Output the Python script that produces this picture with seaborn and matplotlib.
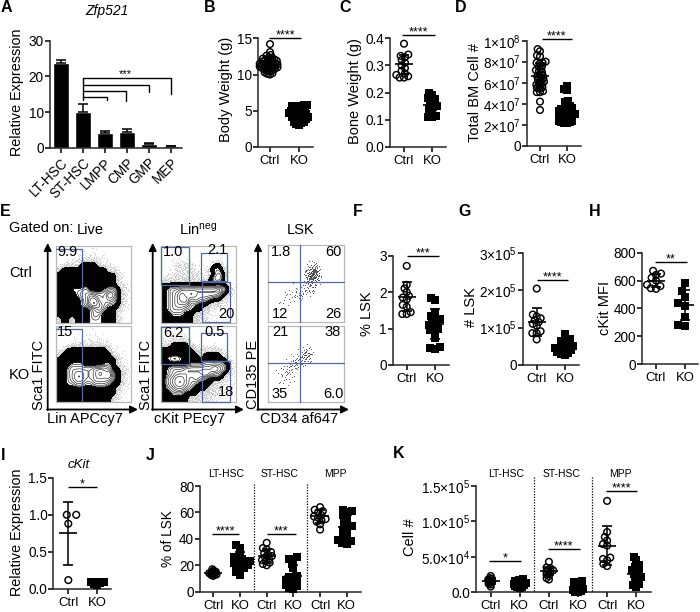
import numpy as np
import matplotlib
matplotlib.use("Agg")
import matplotlib.pyplot as plt
from matplotlib.collections import PathCollection
import seaborn as sns

sns.set_theme(style="ticks")
plt.rcParams["font.family"] = ["Liberation Sans", "DejaVu Sans"]
plt.rcParams["mathtext.default"] = "regular"
plt.rcParams["axes.linewidth"] = 1.1

W, H = 700, 612
fig = plt.figure(figsize=(W / 100, H / 100), dpi=100, facecolor="white")

# ---------- data ----------
A_cats = ["LT-HSC", "ST-HSC", "LMPP", "CMP", "GMP", "MEP"]
A_vals = [23.7, 10.0, 4.1, 4.4, 1.1, 0.4]
A_errs = [0.8, 2.3, 0.7, 0.9, 0.2, 0.2]

B_ctrl = [14.2, 13.1, 12.7, 12.6, 12.4, 12.3, 12.2, 12.1, 12.0, 12.0, 11.9, 11.8, 11.8, 11.7, 11.6, 11.6, 11.5, 11.5, 11.4, 11.4,
          11.3, 11.3, 11.2, 11.2, 11.1, 11.1, 11.0, 11.0, 10.9, 10.9, 10.8, 10.8, 10.7, 10.6, 10.5, 10.4, 10.3, 10.2, 10.1, 10.0]
B_ko = [5.8, 5.8, 5.7, 5.7, 5.6, 5.5, 5.5, 5.4, 5.3, 5.2, 5.1, 5.0, 5.0, 4.9, 4.8, 4.8, 4.7, 4.6, 4.6, 4.5,
        4.5, 4.4, 4.3, 4.3, 4.2, 4.1, 4.1, 4.0, 4.0, 3.9, 3.8, 3.8, 3.7, 3.6, 3.5, 3.5, 3.4, 3.3, 3.2, 3.1]
C_ctrl = [0.38, 0.34, 0.335, 0.33, 0.32, 0.31, 0.30, 0.29, 0.28, 0.27, 0.265, 0.26, 0.255, 0.255]
C_ko = [0.20, 0.19, 0.18, 0.175, 0.17, 0.16, 0.155, 0.15, 0.145, 0.14, 0.13, 0.115, 0.11, 0.11]
D_ctrl = [92, 90, 86, 85, 80, 79, 79, 78, 76, 75, 73, 72, 71, 70, 68, 67, 66, 65, 64, 63, 62, 61, 60, 59, 58, 57, 56, 55, 54, 52, 51, 51, 42, 34]
D_ko = [57, 54, 53, 43, 42, 40, 38, 37, 36, 35, 35, 34, 34, 33, 33, 32, 32, 31, 31, 30, 30, 30, 29, 29, 28, 28, 27, 27, 26, 26, 25, 25, 24, 24, 23, 23, 22, 22]
F_ctrl = [2.72, 2.2, 2.1, 2.0, 1.9, 1.85, 1.8, 1.65, 1.6, 1.45, 1.4, 1.4]
F_ko = [1.85, 1.78, 1.45, 1.35, 1.3, 1.25, 1.2, 1.15, 1.1, 1.05, 1.0, 0.95, 0.9, 0.75, 0.5, 0.47, 0.45]
G_ctrl = [2.05, 1.35, 1.3, 1.25, 1.2, 1.15, 1.1, 1.05, 0.9, 0.85, 0.85, 0.68]
G_ko = [0.82, 0.68, 0.65, 0.6, 0.55, 0.5, 0.48, 0.45, 0.42, 0.4, 0.38, 0.35, 0.32, 0.28, 0.25]
H_ctrl = [670, 650, 640, 620, 600, 570, 560, 545, 540]
H_ko = [585, 525, 480, 440, 420, 340, 280, 275]
I_ctrl = [1.0, 1.0, 0.88, 0.12]
I_ko = [0.1, 0.1, 0.09, 0.08, 0.07, 0.05]
J_groups = [[17, 16, 15, 15, 14.5, 14, 14, 13.5, 13, 13, 12.5, 12],
            [35, 33, 28, 26, 25, 24, 23, 22, 22, 21, 20, 19, 18, 17, 15, 13],
            [37, 33, 32, 30, 29, 28, 27, 26, 25, 24, 23, 22, 21, 20],
            [26, 25, 24, 21, 18, 12, 11, 10, 9, 8, 7, 6, 5, 4, 3, 2],
            [64, 62, 61, 60, 58, 57, 56, 55, 54, 53, 51, 47],
            [62, 61, 60, 58, 56, 52, 50, 49, 47, 45, 43, 41, 39, 38, 37, 36]]
K_groups = [[2.3, 2.0, 1.9, 1.8, 1.7, 1.6, 1.5, 1.4, 1.2, 1.1, 0.8],
            [1.9, 1.8, 1.7, 1.6, 1.5, 1.5, 1.4, 1.3, 1.2, 1.2, 1.1, 1.0, 1.0, 0.9, 0.8, 0.7, 0.6],
            [4.3, 3.5, 3.4, 3.2, 3.1, 3.0, 2.9, 2.7, 2.5, 2.3, 2.0, 1.8],
            [1.6, 1.5, 1.4, 1.3, 1.0, 0.8, 0.6, 0.5, 0.4, 0.3, 0.2, 0.1, 0.1],
            [12.9, 8.5, 7.8, 7.3, 6.8, 6.6, 4.9, 4.7, 4.5, 4.0, 3.7],
            [5.0, 4.6, 4.1, 3.9, 3.6, 3.4, 3.2, 3.0, 2.8, 2.6, 2.4, 2.2, 2.0, 1.8, 1.5, 1.2, 1.0, 0.8]]

B_stats = ([11.4, 4.6], [0.9, 0.9])
C_stats = ([0.305, 0.155], [0.035, 0.03])
D_stats = ([66, 32], [13, 10])
F_stats = ([1.88, 1.12], [0.40, 0.42])
G_stats = ([1.15, 0.50], [0.37, 0.15])
H_stats = ([600, 425], [50, 110])
I_stats = ([0.75, 0.08], [0.42, 0.02])
J_stats = ([14, 24, 27, 12, 57, 49], [1.5, 6, 5, 8, 5, 9])
K_stats = ([1.6, 1.3, 3.0, 0.7, 6.6, 2.6], [0.4, 0.4, 0.6, 0.6, 2.7, 1.2])

# flow-cytometry density maps, read by eye (top row first)
# 0 empty, 1 sparse dots, 2 dense dots, 3 solid black, 4+ white interior with contours
LIVE_CTRL = ["0000011110000000", "0000111111100000", "0011122221110000", "1222233332211000", "2333333333322100",
             "3333333333333210", "3333333333333210", "3333333333333221", "3334445333455321", "3333455655576321",
             "3333345775565321", "3333345776544321", "3333333456433211", "3333333454333210", "2332333444333210"]
LIVE_KO = ["0000000100000000", "0000011111000001", "0001111111110100", "0012222222211000", "1233333333321100",
           "2333333333332110", "3333333333333211", "3334443333443211", "3345555566653321", "3345665567674321",
           "3345665566664321", "3344554455543321", "3333333333333211", "3333333333333210", "3333333333332110"]
LIN_CTRL = ["0000000000000000", "0000000001100000", "0011111000011000", "0112222111133100", "0112222111344210",
            "1122222211245310", "2222222222355310", "3333333333333321", "3455666666667531", "3456767666665321",
            "3456775655433211", "3456664433222110", "3455544332211100", "3344433222111110", "3333333222111000"]
LIN_KO = ["0000000000000000", "0011110000000000", "1122221000000000", "2233332111110000", "3333333222222100",
          "3333333323333210", "3455433333333321", "3333334445555431", "3455566666676531", "3456666667655321",
          "3567765654333211", "3567765433322111", "3456654333222110", "3344433322221110", "3333332222211100"]
# LSK dot density (0-9)
LSK_CTRL = ["0000000000000000", "0000000000000000", "0000000000000000", "0000000012100000", "0000000036300000",
            "0000000158400000", "0000000158300000", "0000000134100000", "0000112232000000", "0001122221000000",
            "0011111100000000", "0011110000000000", "0000000000000000", "0000000000000000", "0000000000000000"]
LSK_KO = ["0000000000000000", "0000000000000000", "0000000000000000", "0000000000000000", "0000000130000000",
          "0000001341000000", "0000123431000000", "0001233100000000", "0012221000000000", "0012210000000000",
          "0011110000000000", "0011100000000000", "0000000000000000", "0000000000000000", "0000000000000000"]

# ---------- helpers ----------
def axpx(x0, x1, ytop, ybot):
    return fig.add_axes([x0 / W, 1 - ybot / H, (x1 - x0) / W, (ybot - ytop) / H], facecolor="none")

ov = fig.add_axes([0, 0, 1, 1], zorder=10, facecolor="none")
ov.set_xlim(0, W); ov.set_ylim(H, 0); ov.axis("off")

def txt(x, y, s, size=10.5, ha="center", va="center", **kw):
    ov.text(x, y, s, fontsize=size, ha=ha, va=va, color="black", **kw)

def sig(x0, x1, y, s, size=9, dy=-2.5):
    ov.plot([x0, x1], [y, y], color="black", lw=1.0, solid_capstyle="butt")
    txt((x0 + x1) / 2, y + dy, s, size=size)

swarm_axes = []

def style_axis(ax, x0, x1, pos, ymax, yticks, ylabels, xlabels):
    unit = pos[1] - pos[0]
    ax.set_xlim((x0 - pos[0]) / unit, (x1 - pos[0]) / unit)
    ax.set_ylim(0, ymax)
    ax.set_yticks(yticks); ax.set_yticklabels(ylabels, fontsize=9.8)
    ax.set_xticks(range(len(xlabels))); ax.set_xticklabels(xlabels, fontsize=9.4)
    ax.tick_params(axis="y", length=3.3, width=1.1, pad=1, color="black", labelcolor="black")
    ax.tick_params(axis="x", length=3.3, width=1.1, pad=2.5, color="black", labelcolor="black")
    ax.set_xlabel(""); ax.set_ylabel("")
    sns.despine(ax=ax)

def dotpanel(x0, x1, ytop, ybot, pos, groups, stats, ymax, yticks, ylabels, layouts):
    ax = axpx(x0, x1, ytop, ybot)
    names = [f"g{i}" for i in range(len(groups))]
    for i, vals in enumerate(groups):
        marker = "o" if i % 2 == 0 else "s"
        sns.swarmplot(x=[names[i]] * len(vals), y=vals, order=names, color="black", marker=marker,
                      size=layouts[i], linewidth=0, warn_thresh=1, ax=ax)
    swarm_axes.append(ax)
    means, sds = stats
    for i, (m, s) in enumerate(zip(means, sds)):
        ax.errorbar([i], [m], yerr=[s], fmt="_", color="black", ms=13, mew=1.2, elinewidth=1.1,
                    capsize=3.4, capthick=1.1, zorder=5, clip_on=False)
    xlabels = ["Ctrl", "KO"] * (len(groups) // 2)
    style_axis(ax, x0, x1, pos, ymax, yticks, ylabels, xlabels)
    return ax

def smooth(Z):
    Z = np.kron(Z, np.ones((5, 5)))
    k = np.ones(5) / 5
    pad = 6
    Z = np.pad(Z, pad, mode="edge")
    for _ in range(2):
        Z = np.apply_along_axis(lambda r: np.convolve(r, k, mode="same"), 0, Z)
        Z = np.apply_along_axis(lambda r: np.convolve(r, k, mode="same"), 1, Z)
    return Z[pad:-pad, pad:-pad]

def parse(rows):
    return np.array([[int(c) for c in r] for r in rows], float)

def frame(ax):
    ax.set_xlim(0, 1); ax.set_ylim(1, 0)
    ax.set_xticks([]); ax.set_yticks([])
    ax.set_xlabel(""); ax.set_ylabel("")
    for s in ax.spines.values():
        s.set_visible(True); s.set_color("#b8b8b8"); s.set_linewidth(0.9)

def halton(count, base):
    out = np.zeros(count)
    i = np.arange(1, count + 1)
    f = 1.0 / base
    while i.max() > 0:
        out += f * (i % base)
        i = i // base
        f /= base
    return out

def stipple(ax, Z, count, weight, color, s):
    """Shade a hand-read density map with dots on a fixed low-discrepancy sequence."""
    u, v, t = halton(count, 2), halton(count, 3), halton(count, 5)
    ny, nx = Z.shape
    local = Z[(v * ny).astype(int), (u * nx).astype(int)]
    keep = t < weight(local)
    sns.scatterplot(x=u[keep], y=v[keep], color=color, s=s, linewidth=0, ax=ax, legend=False)

def contourpanel(x0, x1, ytop, ybot, rows):
    ax = axpx(x0, x1, ytop, ybot)
    Z = smooth(parse(rows))
    ny, nx = Z.shape
    X, Y = np.meshgrid((np.arange(nx) + .5) / nx, (np.arange(ny) + .5) / ny)
    dots = np.where(Z < 3.6, Z, 0)
    stipple(ax, dots, 16000, lambda z: np.clip(z / 3, 0, 1) ** 3.2, "black", 0.5)
    ax.contourf(X, Y, Z, levels=[2.75, 3.75], colors="black")
    ax.contour(X, Y, Z, levels=[3.75, 4.1, 4.5, 5, 5.5, 6, 6.5, 7], colors="#222222", linewidths=0.45)
    frame(ax)

def lskpanel(x0, x1, ytop, ybot, rows):
    ax = axpx(x0, x1, ytop, ybot)
    Z = smooth(parse(rows))
    stipple(ax, Z, 9000, lambda z: np.clip(z / 8, 0, 1) ** 1.5, "#444444", 0.6)
    frame(ax)

# ---------- panel A ----------
axA = axpx(49.5, 182, 40.7, 147.7)
sns.barplot(x=A_cats, y=A_vals, order=A_cats, color="black", width=16 / 22, errorbar=None, saturation=1, ax=axA)
axA.errorbar(range(6), A_vals, yerr=[[0] * 6, A_errs], fmt="none", ecolor="black", elinewidth=1.1, capsize=3.4, capthick=1.1)
style_axis(axA, 49.5, 182, [60.7, 82.7], 30, [0, 10, 20, 30], ["0", "10", "20", "30"], A_cats)
axA.set_xticklabels(A_cats, rotation=45, ha="right", rotation_mode="anchor", fontsize=9.8)
txt(107, 11, "Zfp521", style="italic", size=10)
txt(17.5, 92, "Relative Expression", rotation=90, size=10.4)
for yl, xe, yd in [(78.3, 170.5, 94), (84.7, 149, 92), (91, 125.5, 100.7), (97, 106.5, 99.7)]:
    ov.plot([82.7, xe, xe], [yl, yl, yd], color="black", lw=1.0, solid_joinstyle="miter")
ov.plot([82.7, 82.7], [78.3, 100], color="black", lw=1.0)
txt(125, 74, "***", size=8)

# ---------- dot panels ----------
dotpanel(257.7, 313, 38.3, 147, [270, 299], [B_ctrl, B_ko], B_stats, 15, [0, 5, 10, 15], ["0", "5", "10", "15"], [2.0, 2.0])
txt(226, 89, "Body Weight (g)", rotation=90)
sig(269, 301, 38, "****")

dotpanel(390, 446, 38.3, 146.7, [404, 432.3], [C_ctrl, C_ko], C_stats, 0.4, [0, .1, .2, .3, .4], ["0.0", "0.1", "0.2", "0.3", "0.4"], [3.0, 3.0])
txt(355, 91, "Bone Weight (g)", rotation=90)
sig(402.3, 435.3, 35, "****")

dotpanel(526.7, 580.7, 40.7, 145.7, [540, 567], [D_ctrl, D_ko], D_stats, 100, [0, 20, 40, 60, 80, 100],
         ["0", "2×10$^{7}$", "4×10$^{7}$", "6×10$^{7}$", "8×10$^{7}$", "1×10$^{8}$"], [2.2, 2.0])
txt(475, 92, "Total BM Cell #", rotation=90)
sig(541.7, 572, 39, "****")

dotpanel(392.7, 449.3, 255.7, 365, [406.7, 435], [F_ctrl, F_ko], F_stats, 3, [0, 1, 2, 3], ["0", "1", "2", "3"], [3.0, 3.4])
txt(366.7, 314, "% LSK", rotation=90)
sig(407, 439.3, 256, "***")

dotpanel(522.7, 579.3, 253.3, 364.7, [536.7, 565], [G_ctrl, G_ko], G_stats, 3, [0, 1, 2, 3],
         ["0", "1×10$^{5}$", "2×10$^{5}$", "3×10$^{5}$"], [3.0, 3.0])
txt(470.7, 306.7, "# LSK", rotation=90)
sig(536.7, 567.7, 280, "****")

dotpanel(642.3, 698, 252.7, 364, [656, 685], [H_ctrl, H_ko], H_stats, 800, [0, 200, 400, 600, 800], ["0", "200", "400", "600", "800"], [3.6, 5.0])
txt(605, 307.5, "cKit MFI", rotation=90)
sig(655, 686.7, 261.7, "**")

dotpanel(53.3, 111, 477.7, 589, [68.3, 97.3], [I_ctrl, I_ko], I_stats, 1.5, [0, .5, 1, 1.5], ["0.0", "0.5", "1.0", "1.5"], [6.5, 2.6])
txt(17.3, 532.5, "Relative Expression", rotation=90, size=10.4)
txt(79, 465, "cKit", style="italic", size=9.5)
sig(68.3, 96.7, 487, "*")

dotpanel(200, 361, 486, 591.7, [213.3, 240], J_groups, J_stats, 80, [0, 20, 40, 60, 80], ["0", "20", "40", "60", "80"],
         [1.3, 3.2, 2.8, 3.0, 3.0, 3.4])
txt(168.3, 538.3, "% of LSK", rotation=90, size=9.8)
for xv in (253.7, 306.7):
    ov.plot([xv, xv], [484, 591], color="black", lw=0.9, ls=(0, (1, 1.2)))
for xh, s in [(225.7, "LT-HSC"), (280, "ST-HSC"), (335, "MPP")]:
    txt(xh, 474, s, size=7.5)
sig(212, 239.3, 534, "****")
sig(266.7, 296, 534, "***")

dotpanel(476, 650.7, 486, 592.3, [490.7, 519.8], K_groups, K_stats, 15, [0, 5, 10, 15],
         ["0.0", "5.0×10$^{4}$", "1.0×10$^{5}$", "1.5×10$^{5}$"], [1.5, 1.8, 1.9, 2.0, 3.0, 2.6])
txt(410, 536.7, "Cell #", rotation=90)
for xv, y0 in ((534, 476.7), (591.7, 476.7)):
    ov.plot([xv, xv], [y0, 592], color="black", lw=0.9, ls=(0, (1, 1.2)))
for xh, s in [(505.7, "LT-HSC"), (561.7, "ST-HSC"), (620, "MPP")]:
    txt(xh, 474, s, size=7.5)
sig(489.3, 521, 561, "*")
sig(547.7, 580, 549, "****")
sig(605.7, 637.3, 490.7, "****")

# ---------- panel E ----------
contourpanel(55.7, 130.7, 246, 322.7, LIVE_CTRL)
contourpanel(55.7, 130.7, 326, 401.7, LIVE_KO)
contourpanel(160.7, 236, 246, 322.7, LIN_CTRL)
contourpanel(160.7, 236, 326, 401.7, LIN_KO)
lskpanel(267.7, 344, 245, 322, LSK_CTRL)
lskpanel(267.7, 344, 326, 401.7, LSK_KO)

for ax0, ax1 in [(47.7, 138), (152.7, 244), (258, 349)]:
    for xy, xyt in [((ax0, 243), (ax0, 410)), ((ax1, 409.5), (ax0 - 0.7, 409.5))]:
        ov.annotate("", xy=xy, xytext=xyt, xycoords="data", textcoords="data",
                    arrowprops=dict(arrowstyle="-|>", lw=1.3, color="black", mutation_scale=11, shrinkA=0, shrinkB=0))

GATE = "#5468a6"
def gate(xs, ys):
    ov.plot(xs, ys, color=GATE, lw=0.9, solid_joinstyle="miter")

gate([56, 82.3, 82.3], [249, 249, 322]); gate([56, 82.3, 82.3], [329, 329, 401])
for yt, yb, tt, tb, lt, lb in [(247, 285, 253, 280.7, 281.7, 322), (327, 364, 333, 360.7, 361.3, 401.7)]:
    gate([161, 189, 189, 161, 161], [yt, yt, yb, yb, yt])
    gate([200.7, 226.7, 226.7, 200.7, 200.7], [tt, tt, tb, tb, tt])
    gate([202, 230, 230, 202, 202], [lb, lb, lt, lt, lb])
for yh, y0, y1 in [(282.3, 245, 322), (363.3, 326, 401.7)]:
    gate([300.3, 300.3], [y0, y1]); gate([267.7, 344], [yh, yh])

txt(9, 228, "Gated on:", ha="left"); txt(90, 230, "Live"); txt(198, 230, "Lin$^{neg}$"); txt(301, 230, "LSK")
txt(9, 273, "Ctrl", ha="left"); txt(9, 375, "KO", ha="left")
for x, y, s in [(57, 252, "9.9"), (57, 332, "15")]:
    txt(x, y, s, ha="left")
for x, y, s in [(173, 252, "1.0"), (217, 250, "2.1"), (226, 314, "20"), (173, 333, "6.2"), (215, 332, "0.5"), (226, 392, "18"),
                (281, 252, "1.8"), (333, 252, "60"), (280, 314, "12"), (333, 314, "26"),
                (280, 332, "21"), (333, 332, "38"), (280, 394, "35"), (333, 394, "6.0")]:
    txt(x, y, s)
txt(84.5, 419, "Lin APCcy7"); txt(190, 419, "cKit PEcy7"); txt(299, 419, "CD34 af647")
txt(39, 375, "Sca1 FITC", rotation=90); txt(146, 375, "Sca1 FITC", rotation=90); txt(253, 374, "CD135 PE", rotation=90)

# ---------- letters ----------
for x, y, s in [(6, 7, "A"), (210, 7, "B"), (345, 7, "C"), (461, 7, "D"), (5, 212, "E"), (358, 212, "F"), (465, 212, "G"),
                (595, 212, "H"), (3, 455, "I"), (150, 455, "J"), (399, 453, "K")]:
    txt(x, y, s, size=11.5, weight="bold")

# ---------- freeze swarm layout, then draw real (overlapping) marker sizes ----------
fig.canvas.draw()
for ax in swarm_axes:
    for coll in ax.collections:
        if not isinstance(coll, PathCollection) or len(coll.get_offsets()) < 1:
            continue
        coll.__dict__.pop("draw", None)
        coll.set_clip_on(False)
        is_ctrl = round(float(np.median(coll.get_offsets()[:, 0]))) % 2 == 0
        if is_ctrl:
            coll.set_facecolor("none"); coll.set_edgecolor("black"); coll.set_sizes([23]); coll.set_linewidth(1.05)
        else:
            coll.set_facecolor("black"); coll.set_edgecolor("black"); coll.set_sizes([27]); coll.set_linewidth(0)

fig.savefig("out.png", dpi=100)
